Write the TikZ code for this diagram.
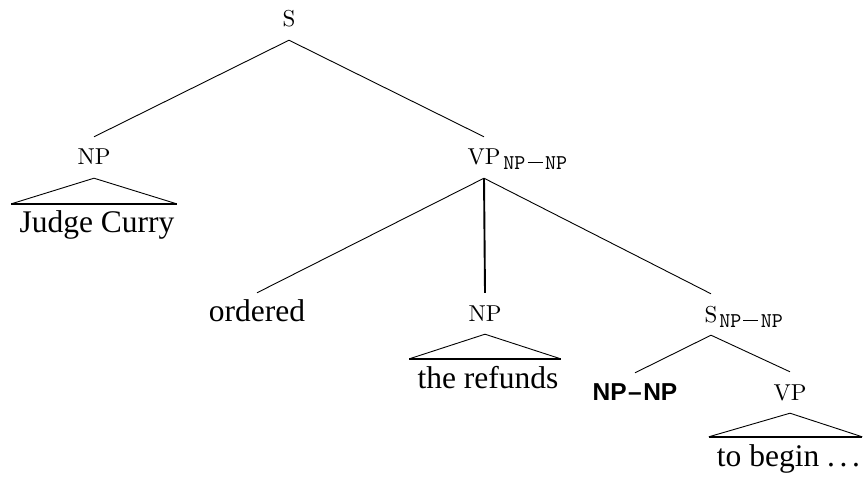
\documentclass[tikz,border=0pt]{standalone}
\usepackage{fontspec}
\setmainfont{lmroman10-regular.otf}
\setmonofont{lmmono10-regular.otf}
\newfontfamily\wordfont{Liberation Serif}
\newfontfamily\tagfont{Liberation Sans}
% subscript feature tag NP-NP in typewriter, lowered
\newcommand\npnpsub{\raisebox{-5pt}{\fontsize{21}{24}\selectfont\ttfamily NP\kern2pt\rule[6.5pt]{15pt}{1pt}\kern2.5pt NP}}
\tikzset{
  cat/.style={font=\fontsize{23}{27}\selectfont, text height=15pt, text depth=0pt,
    inner xsep=2pt, inner ysep=13pt, anchor=base},
  word/.style={font=\wordfont\fontsize{31.5}{36}\selectfont, text height=22pt, text depth=0pt,
    inner xsep=5pt, inner ysep=7pt, anchor=base},
  tagnode/.style={font=\tagfont\bfseries\fontsize{24.5}{28}\selectfont, text height=17pt,
    text depth=0pt, inner xsep=2pt, inner ysep=10pt, anchor=base},
  branch/.style={line width=0.9pt},
  headbranch/.style={line width=1.9pt},
  roofbase/.style={line width=2pt}
}
\begin{document}
\begin{tikzpicture}[x=1pt,y=-1pt]
\useasboundingbox (0,0) rectangle (864,478);

% categories
\node[cat] (S)    at (289,27)  {S};
\node[cat] (NPs)  at (94,165)  {NP};
\node[cat] (VP)   at (484,165) {VP\rlap{\kern3pt\npnpsub}};
\node[cat] (NPo)  at (485,321) {NP};
\node[cat] (Sc)   at (711,322) {S\rlap{\kern2pt\npnpsub}};
\node[cat] (VPc)  at (790,400) {VP};
\node[tagnode] (gap) at (635,400) {NP\kern1.5pt\textendash\kern1.5pt NP};

% words
\node[word, inner ysep=6pt] (ordered) at (257,321) {ordered};
\node[word] (judge)   at (97,233)    {Judge Curry};
\node[word] (refunds) at (488,388)   {the refunds};
\node[word] (tobegin) at (788.5,466) {to begin .\kern4.6pt.\kern4.6pt.};

% branches
\draw[branch] (S.south) -- (NPs.north);
\draw[branch] (S.south) -- (VP.north);
\draw[branch] (VP.south) -- (ordered.north);
\draw[headbranch] (VP.south) -- (NPo.north);
\draw[branch] (VP.south) -- (Sc.north);
\draw[branch] (Sc.south) -- (gap.north);
\draw[branch] (Sc.south) -- (VPc.north);

% roofs over unanalysed phrases
\foreach \m/\w in {NPs/judge, NPo/refunds, VPc/tobegin}{
  \draw[branch] (\m.south) -- ([xshift=-3pt]\w.north west);
  \draw[branch] (\m.south) -- ([xshift=-3pt]\w.north east);
  \draw[roofbase] ([xshift=-3pt]\w.north west) -- ([xshift=-3pt]\w.north east);
}
\end{tikzpicture}
\end{document}
